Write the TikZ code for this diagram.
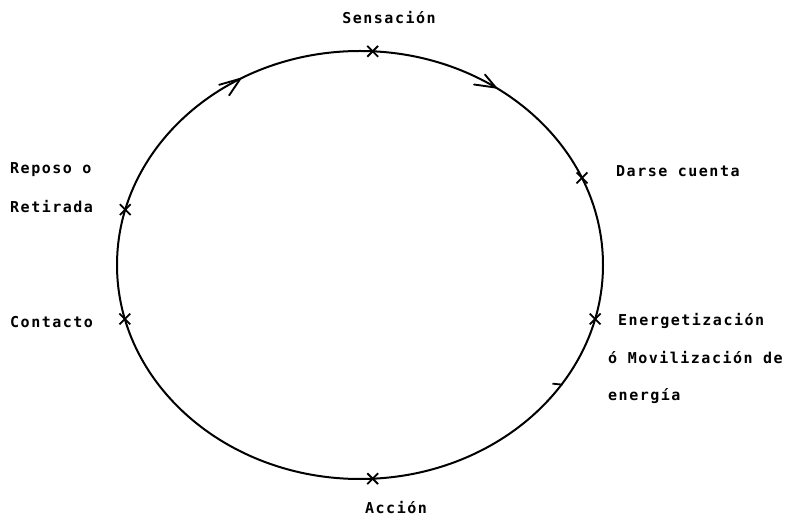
\documentclass[tikz,border=0pt]{standalone}
\usepackage{fontspec}
\newfontfamily\dotfont[LetterSpace=10]{DejaVu Sans Mono}
\usetikzlibrary{shapes.misc,calc}
\begin{document}
\begin{tikzpicture}[x=1pt,y=1pt,
  ring/.style={line width=2pt},
  crossmark/.style={cross out,draw,line width=1.8pt,minimum size=9pt,inner sep=0pt},
  lbl/.style={font=\dotfont\bfseries\fontsize{15}{18}\selectfont,inner sep=0pt},
  barb/.style={line width=1.9pt,line cap=round,line join=round}
]
\useasboundingbox (0,0) rectangle (790,517);
\coordinate (c) at (360,252);
\draw[ring] (c) ellipse [x radius=243, y radius=214];
% stage marks on the cycle
\node[crossmark] (xs) at ($(c)+(87:243 and 214)$) {};
\node[crossmark] (xd) at ($(c)+(24:243 and 214)$) {};
\node[crossmark] (xe) at ($(c)+(-14.6:243 and 214)$) {};
\node[crossmark] (xa) at ($(c)+(-87:243 and 214)$) {};
\node[crossmark] (xc) at ($(c)+(194.6:243 and 214)$) {};
\node[crossmark] (xr) at ($(c)+(165:243 and 214)$) {};
% direction arrowheads (clockwise)
\coordinate (t1) at ($(c)+(119.5:243 and 214)$);
\draw[barb] ($(t1)+(196:22)$) -- (t1) -- ($(t1)+(236:20)$);
\coordinate (t2) at ($(c)+(56:243 and 214)$);
\draw[barb] ($(t2)+(130:17)$) -- (t2) -- ($(t2)+(172:22)$);
\coordinate (tk) at ($(c)+(-34:243 and 214)$);
\draw[line width=1.8pt] ($(tk)+(-9,1)$) -- ($(tk)+(1,0)$);
% labels
\node[lbl] (ls) at (389,499) {Sensación};
\node[lbl,anchor=west] (ld) at (616,346) {Darse cuenta};
\node[lbl,anchor=west] (le1) at (618,196) {Energetización};
\node[lbl,anchor=west] (le2) at (608,159) {ó Movilización de};
\node[lbl,anchor=west] (le3) at (608,121) {energía};
\node[lbl] (la) at (396,9) {Acción};
\node[lbl,anchor=west] (lc) at (10,195) {Contacto};
\node[lbl,anchor=west] (lr1) at (10,347) {Reposo o};
\node[lbl,anchor=west] (lr2) at (10,310) {Retirada};
\end{tikzpicture}
\end{document}
